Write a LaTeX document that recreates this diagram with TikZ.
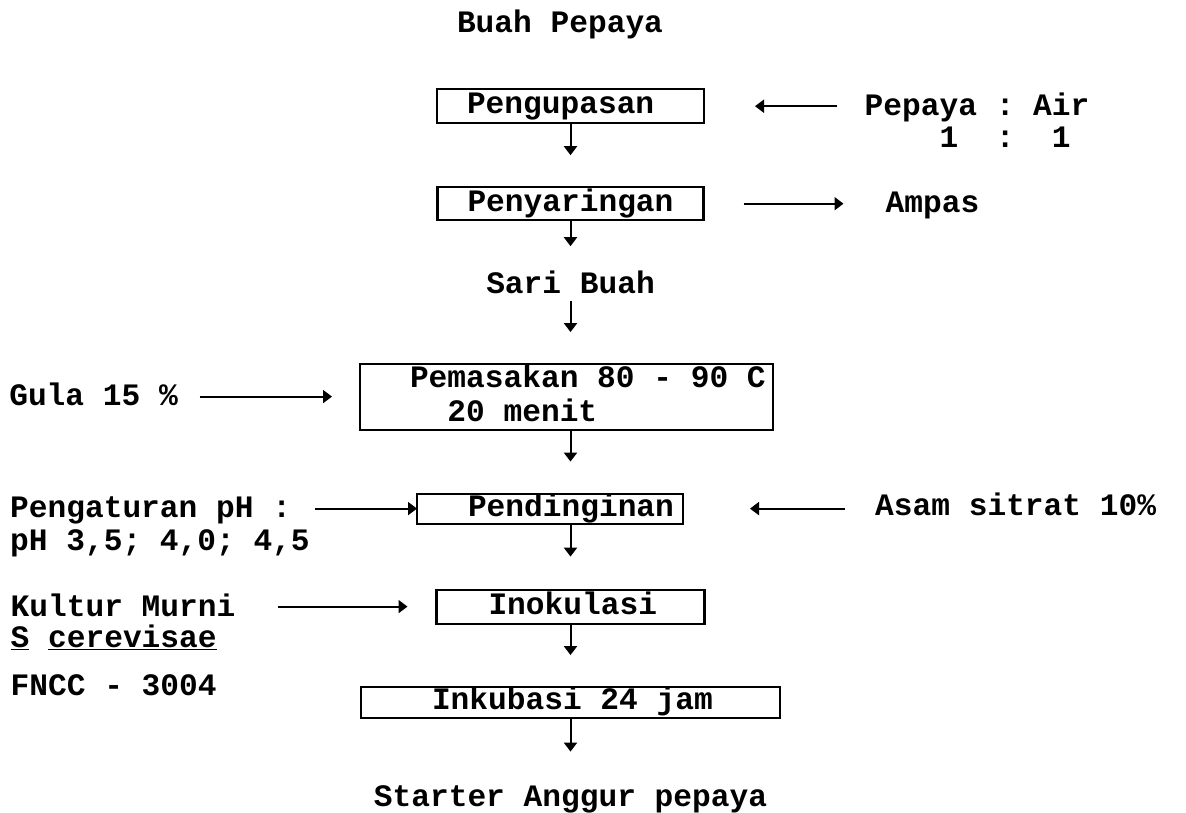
\documentclass[tikz,border=0pt]{standalone}
\usepackage{fontspec}
\setmainfont{Liberation Mono}[WordSpace={1,0,0}]
\usetikzlibrary{positioning, arrows.meta, calc}

\begin{document}
\begin{tikzpicture}[
        x=1pt, y=-1pt,
        font=\fontsize{31.2}{33}\selectfont\bfseries\frenchspacing,
        stepbox/.style={
            draw,
            line width=2.2pt,
            inner sep=0pt,
            outer sep=0pt,
            minimum height=33pt,
            text height=22pt,
            text depth=7pt,
            align=flush left
        },
        flowtext/.style={
            inner sep=0pt,
            text height=21pt,
            text depth=7pt
        },
        sidenote/.style={
            inner sep=0pt,
            align=flush left
        },
        arr/.style={-{Triangle[length=9pt, width=13pt]}, line width=2pt}
    ]

    \useasboundingbox (0,0) rectangle (1186,813);

    \node[flowtext] (buah) at (560,26) {Buah Pepaya};

    \node[stepbox, text width=267pt, minimum height=34pt, below=49pt of buah, xshift=10.5pt] (kupas) {\hspace*{30pt}Pengupasan};

    \node[stepbox, text width=266pt, below=64pt of kupas] (saring) {\hspace*{30pt}Penyaringan};

    \node[flowtext, below=52pt of saring] (sari) {Sari Buah};

    \node[stepbox, text width=413pt, minimum height=66pt, text depth=41pt, below=63pt of sari, xshift=-4pt] (masak) {
        \hspace*{50pt}Pemasakan 80 - 90 C\\[1pt]
        \hspace*{50pt}~~20 menit
    };

    \node[stepbox, text width=266pt, minimum height=30pt, below=64pt of masak, xshift=-16.5pt] (dingin) {\hspace*{51pt}Pendinginan};

    \node[stepbox, text width=268pt, minimum height=34pt, below=66pt of dingin, xshift=20.5pt] (inokulasi) {\hspace*{52pt}Inokulasi};

    \node[stepbox, text width=419pt, minimum height=31pt, below=63pt of inokulasi] (inkubasi) {\hspace*{71pt}Inkubasi 24 jam};

    \node[flowtext, below=68pt of inkubasi] (starter) {Starter Anggur pepaya};

    \coordinate (sumbu) at (kupas.south);

    % bahan masuk / keluar
    \node[sidenote, text width=260pt, anchor=base west] (rasio) at ($(kupas.east)+(160.5,9)$) {
        Pepaya : Air\\[-1pt]
        ~~~~1~~:~~1
    };
    \node[sidenote, anchor=base west] (ampas) at ($(saring.east)+(182,8.5)$) {Ampas};
    \node[sidenote, anchor=base east] (gula) at ($(masak.west)+(-182,9)$) {Gula 15 \%};
    \node[sidenote, text width=305pt, anchor=base west] (atur) at ($(dingin.west)+(-407,9)$) {
        Pengaturan pH :\\
        pH 3,5; 4,0; 4,5
    };
    \node[sidenote, text width=267pt, anchor=base west] (kultur) at ($(inokulasi.west)+(-426,10)$) {
        Kultur Murni\\[-2pt]
        \underline{S} \underline{cerevisae}
    };
    \node[sidenote, anchor=base west] (fncc) at ($(kultur.base west)+(0,79)$) {FNCC - 3004};
    \node[sidenote, anchor=base west] (sitrat) at ($(dingin.east)+(192,7)$) {Asam sitrat 10\%};

    \foreach \a/\b in {kupas/saring, saring/sari, sari/masak, masak/dingin, dingin/inokulasi, inokulasi/inkubasi, inkubasi/starter}
        \draw[arr] (\a.south -| sumbu) -- ($(\a.south -| sumbu)!0.5!(\b.north -| sumbu)$);

    \draw[arr, shorten <=28pt, shorten >=51pt] (rasio.west |- kupas.east) -- (kupas.east);
    \draw[arr, shorten <=40pt, shorten >=42pt] (saring.east) -- (ampas.west |- saring.east);
    \draw[arr, shorten <=21.5pt, shorten >=28pt] (gula.east |- masak.west) -- (masak.west);
    \draw[arr] (atur.east |- dingin.west) -- (dingin.west);
    \draw[arr, shorten >=29pt] (kultur.east |- inokulasi.west) -- (inokulasi.west);
    \draw[arr, shorten <=30pt, shorten >=67pt] (sitrat.west |- dingin.east) -- (dingin.east);

\end{tikzpicture}
\end{document}
